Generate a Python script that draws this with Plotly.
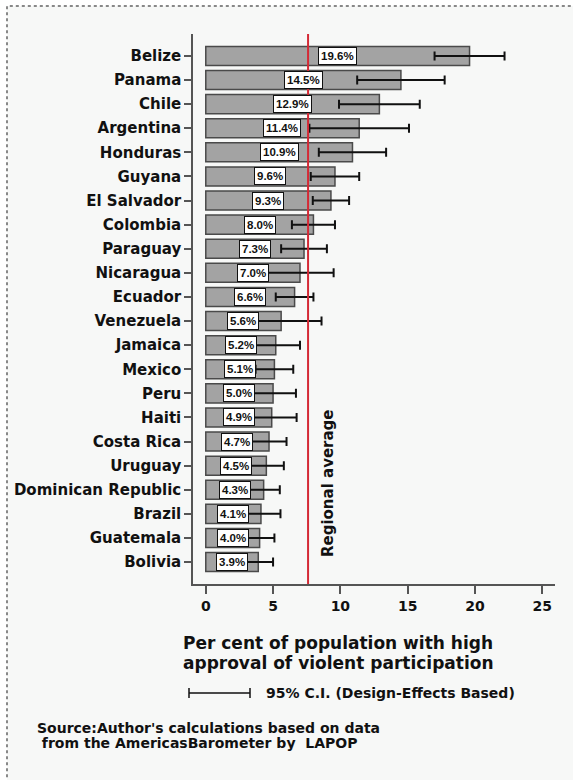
import plotly.graph_objects as go

countries = ["Belize", "Panama", "Chile", "Argentina", "Honduras", "Guyana",
             "El Salvador", "Colombia", "Paraguay", "Nicaragua", "Ecuador",
             "Venezuela", "Jamaica", "Mexico", "Peru", "Haiti", "Costa Rica",
             "Uruguay", "Dominican Republic", "Brazil", "Guatemala", "Bolivia"]
approval = [19.6, 14.5, 12.9, 11.4, 10.9, 9.6, 9.3, 8.0, 7.3, 7.0, 6.6,
            5.6, 5.2, 5.1, 5.0, 4.9, 4.7, 4.5, 4.3, 4.1, 4.0, 3.9]
ci_half = [2.6, 3.25, 3.0, 3.7, 2.5, 1.8, 1.35, 1.6, 1.7, 2.5, 1.4,
           3.0, 1.8, 1.4, 1.7, 1.85, 1.3, 1.3, 1.2, 1.45, 1.1, 1.1]
regional_average = 7.6
x_ticks = [0, 5, 10, 15, 20, 25]

FONT = "DejaVu Sans, Verdana, sans-serif"
LABEL_FONT = "Liberation Sans, Arial, sans-serif"
BG = "#f7f8f7"
INK = "#111111"

# plot area in pixels: left 193, right 555, top 34, bottom 584
PX_L, PX_W, PX_B, PX_H = 193, 362, 584, 550


def px(x):
    return (x - PX_L) / PX_W


def py(y):
    return (PX_B - y) / PX_H


fig = go.Figure()
fig.add_trace(go.Bar(
    y=countries, x=approval, orientation="h", width=0.79,
    marker=dict(color="#a3a3a3", line=dict(color="#4a4a4a", width=1.5)),
    error_x=dict(type="data", array=ci_half, color=INK,
                 thickness=2, width=4.5),
    showlegend=False, hoverinfo="skip",
))

# value labels in white boxes at the middle of each bar
for c, v in zip(countries, approval):
    fig.add_annotation(
        x=v / 2, y=c, xref="x", yref="y", text=f"{v:.1f}%",
        showarrow=False, bgcolor="white", bordercolor=INK,
        borderwidth=1, borderpad=2,
        font=dict(family=LABEL_FONT, size=11.5, color=INK, weight="bold"),
    )

# regional average line
fig.add_shape(type="line", xref="x", yref="paper",
              x0=regional_average, x1=regional_average, y0=0, y1=1,
              line=dict(color="#d42a36", width=2), layer="above")
fig.add_annotation(
    x=regional_average, y=py(483), xref="x", yref="paper", xshift=20,
    xanchor="center", yanchor="middle",
    text="Regional average", textangle=-90, showarrow=False,
    font=dict(family=FONT, size=15, color=INK, weight="bold"),
)

# framed background
fig.add_shape(type="rect", xref="paper", yref="paper",
              x0=px(7), x1=1.2, y0=-0.5, y1=py(6),
              fillcolor=BG, line=dict(color="#888888", width=2, dash="dot"),
              layer="below")

# axis title
for txt, ypx in (("Per cent of population with high", 643),
                 ("approval of violent participation", 663)):
    fig.add_annotation(
        x=px(338), y=py(ypx), xref="paper", yref="paper",
        xanchor="center", yanchor="middle", text=txt, showarrow=False,
        font=dict(family=FONT, size=17, color=INK, weight="bold"),
    )

# CI legend key
ly = py(693)
lx0, lx1 = px(189), px(250)
cap = 5 / PX_H
fig.add_shape(type="line", xref="paper", yref="paper", x0=lx0, x1=lx1, y0=ly, y1=ly,
              line=dict(color=INK, width=1.5))
for xx in (lx0, lx1):
    fig.add_shape(type="line", xref="paper", yref="paper", x0=xx, x1=xx,
                  y0=ly - cap, y1=ly + cap, line=dict(color=INK, width=1.5))
fig.add_annotation(
    x=px(264), y=ly, xref="paper", yref="paper",
    xanchor="left", yanchor="middle",
    text="95% C.I. (Design-Effects Based)", showarrow=False,
    font=dict(family=FONT, size=14, color=INK, weight="bold"),
)

# source note
for txt, ypx in (("Source:Author's calculations based on data", 728),
                 ("&nbsp;from the AmericasBarometer by &nbsp;LAPOP", 743)):
    fig.add_annotation(
        x=px(35), y=py(ypx), xref="paper", yref="paper",
        xanchor="left", yanchor="middle", text=txt, showarrow=False,
        font=dict(family=FONT, size=14, color=INK, weight="bold"),
    )

fig.update_layout(
    width=573, height=780,
    margin=dict(l=193, r=18, t=34, b=196),
    paper_bgcolor="white", plot_bgcolor="rgba(0,0,0,0)",
)
fig.update_xaxes(
    range=[-0.95, 25.95], tickvals=x_ticks, showgrid=False, zeroline=False,
    showline=True, linecolor="#555555", linewidth=1.5,
    ticks="outside", ticklen=8, tickwidth=1.5, tickcolor="#555555",
    tickfont=dict(family=FONT, size=14, color=INK, weight="bold"),
)
fig.update_yaxes(
    type="category", range=[21.91, -0.91], showgrid=False, zeroline=False,
    showline=True, linecolor="#555555", linewidth=1.5,
    ticks="outside", ticklen=7, tickwidth=1.5, tickcolor="#555555",
    tickfont=dict(family=FONT, size=15, color=INK, weight="bold"),
)

fig.write_html("out.html")
